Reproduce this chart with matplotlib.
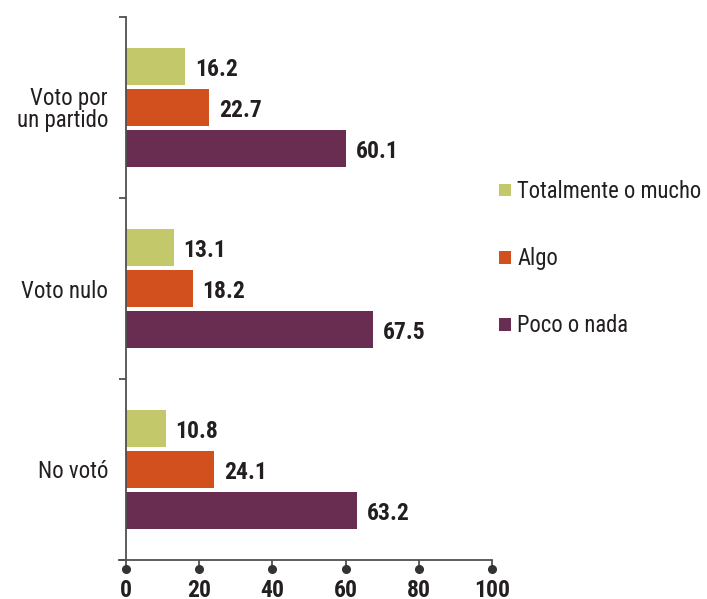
import matplotlib
matplotlib.use('Agg')
import matplotlib.pyplot as plt
import numpy as np

# datos
categorias = ['Voto por\nun partido', 'Voto nulo', 'No votó']
series = ['Totalmente o mucho', 'Algo', 'Poco o nada']
totalmente = [16.2, 13.1, 10.8]
algo = [22.7, 18.2, 24.1]
poco = [60.1, 67.5, 63.2]
xticks = [0, 20, 40, 60, 80, 100]

colores = ['#C3C86B', '#D24F1E', '#6A2D52']
texto = '#231F20'

plt.rcParams['font.family'] = ['Roboto Condensed', 'DejaVu Sans']

fig = plt.figure(figsize=(7.07, 5.99), dpi=100)
ax = fig.add_axes([126 / 707, 39 / 599, 366 / 707, 543 / 599])

y = np.arange(len(categorias)) + 0.5
alto = 0.208
sep = 0.2265

for k, (vals, nombre) in enumerate(zip([totalmente, algo, poco], series)):
    barras = ax.barh(y + (k - 1) * sep, vals, height=alto, color=colores[k],
                     label=nombre, zorder=2)
    etiquetas = ax.bar_label(barras, fmt='%.1f', padding=7, fontsize=17,
                             fontweight='bold', color=texto)
    for t in etiquetas:
        t.xyann = (7, -2)  # un poco mas abajo, como en el original

ax.set_xlim(0, 100)
ax.set_ylim(3, 0)

# ejes
for lado in ['top', 'right']:
    ax.spines[lado].set_visible(False)
ax.spines['left'].set_color('#505050')
ax.spines['left'].set_linewidth(1.3)
ax.spines['left'].set_zorder(3)
ax.spines['bottom'].set_color('#505050')
ax.spines['bottom'].set_linewidth(1.3)
ax.spines['bottom'].set_bounds(-1.8, 100)

ax.set_yticks(y)
ax.set_yticklabels(categorias, fontsize=16.5, color=texto, linespacing=0.95)
ax.tick_params(axis='y', which='major', length=0, pad=13)
ax.set_yticks([0, 1, 2, 3], minor=True)
ax.tick_params(axis='y', which='minor', length=5, width=1.3, color='#505050')

ax.set_xticks(xticks)
ax.set_xticklabels([str(t) for t in xticks], fontsize=17, fontweight='bold',
                   color=texto)
ax.tick_params(axis='x', length=6, width=1.3, color='#505050', pad=8)
ax.plot(xticks, [-0.017] * len(xticks), 'o', color='#333333', markersize=5.5,
        transform=ax.get_xaxis_transform(), clip_on=False)

leg = ax.legend(loc='center left', bbox_to_anchor=(1.02, 0.555),
                frameon=False, fontsize=16.3, handlelength=0.5,
                handleheight=0.5, handletextpad=0.3, labelspacing=1.95,
                borderaxespad=0, borderpad=0)
for t in leg.get_texts():
    t.set_color(texto)

fig.savefig('out.png', dpi=100)
